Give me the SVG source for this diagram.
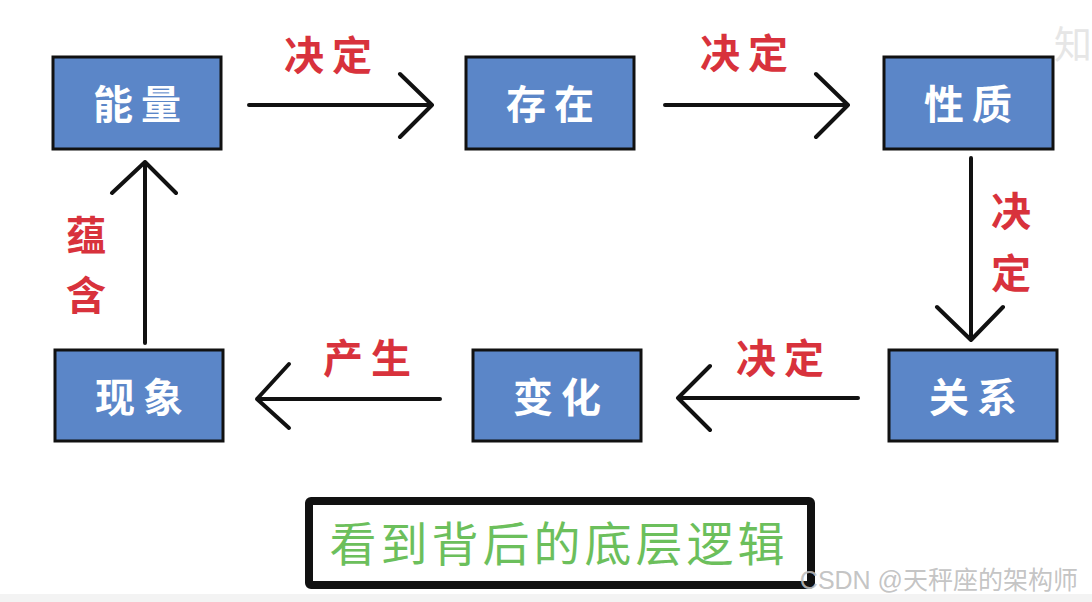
<svg xmlns="http://www.w3.org/2000/svg" width="1092" height="602" viewBox="0 0 1092 602">
<style>
.node rect{fill:#5b86c8;stroke:#111;stroke-width:3}
.node text{fill:#fff;font-family:"Noto Sans CJK SC","Noto Sans CJK JP",sans-serif;font-weight:bold;font-size:40px;letter-spacing:8px;text-anchor:middle}
.lbl{fill:#d8323c;font-family:"Noto Sans CJK SC",sans-serif;font-weight:bold;font-size:40px;letter-spacing:8px;text-anchor:middle}
#edges path{fill:none;stroke:#111;stroke-width:4;stroke-linecap:round;stroke-linejoin:round}
</style>
<rect width="1092" height="602" fill="#fff"/>
<rect y="594" width="1092" height="8" fill="#f3f3f3"/>
<g id="n-nengliang" class="node"><rect x="53" y="57" width="168" height="92"/><text x="141" y="119">能量</text></g>
<g id="n-cunzai" class="node"><rect x="466" y="57" width="168" height="92"/><text x="554" y="119">存在</text></g>
<g id="n-xingzhi" class="node"><rect x="884" y="57" width="169" height="92"/><text x="972" y="119">性质</text></g>
<g id="n-guanxi" class="node"><rect x="889" y="350" width="168" height="91"/><text x="977" y="412">关系</text></g>
<g id="n-bianhua" class="node"><rect x="473" y="350" width="168" height="91"/><text x="561" y="412">变化</text></g>
<g id="n-xianxiang" class="node"><rect x="55" y="350" width="168" height="91"/><text x="143" y="412">现象</text></g>
<g id="edges">
<path d="M249 105H432M400 74L432 105L400 137"/>
<path d="M665 105H848M816 74L848 105L816 137"/>
<path d="M971 158V340M937 307L971 340L1003 307"/>
<path d="M858 398H678M710 366L678 398L710 430"/>
<path d="M440 399H257M289 364L257 399L289 428"/>
<path d="M145 343V162M112 193L145 162L176 193"/>
</g>
<g id="labels">
<text class="lbl" x="332" y="70">决定</text>
<text class="lbl" x="748" y="68">决定</text>
<text class="lbl" x="1015" y="226">决</text>
<text class="lbl" x="1015" y="288">定</text>
<text class="lbl" x="784" y="373">决定</text>
<text class="lbl" x="371" y="373">产生</text>
<text class="lbl" x="90" y="250">蕴</text>
<text class="lbl" x="90" y="310">含</text>
</g>
<g id="banner">
<rect x="309" y="501" width="502" height="84" fill="#fff" stroke="#111" stroke-width="8" rx="2"/>
<text x="559" y="561" fill="#6cbf5c" font-family="Noto Sans CJK SC,sans-serif" font-size="47" letter-spacing="4" text-anchor="middle">看到背后的底层逻辑</text>
</g>
<text x="1078" y="589" fill="#bdbdbd" fill-opacity="0.9" font-family="Liberation Sans,Noto Sans CJK SC,sans-serif" font-size="25" text-anchor="end">CSDN @天秤座的架构师</text>
<text x="1054" y="58" fill="#e6e6e6" font-family="Noto Sans CJK SC,sans-serif" font-size="38">知</text>
</svg>
